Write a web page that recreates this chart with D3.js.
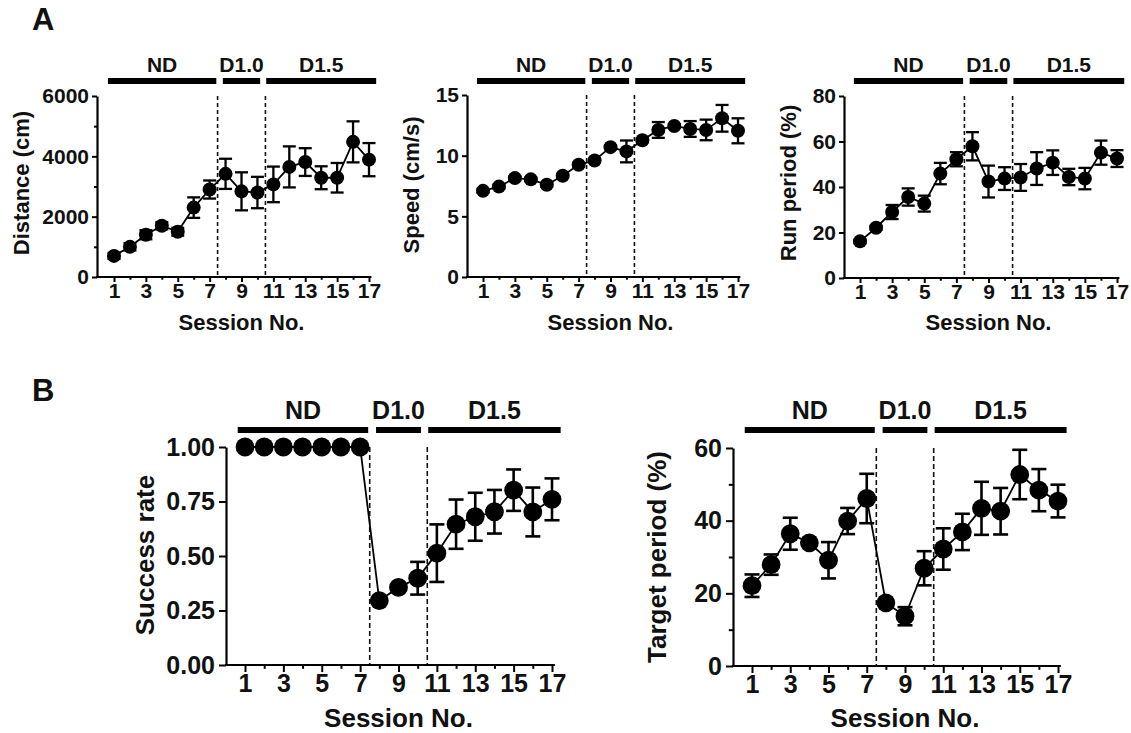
<!DOCTYPE html>
<html>
<head>
<meta charset="utf-8">
<script src="https://cdn.jsdelivr.net/npm/d3@7"></script>
<style>
  body { margin: 0; background: #fff; }
  svg text { font-family: "Liberation Sans", Arial, sans-serif; font-weight: bold; fill: #111; }
</style>
</head>
<body>
<div id="chart"></div>
<script>
const sessions = [1, 2, 3, 4, 5, 6, 7, 8, 9, 10, 11, 12, 13, 14, 15, 16, 17];
const oddSessions = [1, 3, 5, 7, 9, 11, 13, 15, 17];
const evenSessions = [2, 4, 6, 8, 10, 12, 14, 16];

const stageNames = ['ND', 'D1.0', 'D1.5'];
const stageSpans = [[0.62, 7.42], [7.83, 10.17], [10.55, 17.45]];
const stageBreaks = [7.5, 10.5];

// A: distance
const distanceMean = [700, 1000, 1400, 1700, 1500, 2300, 2900, 3420, 2840, 2800, 3070, 3650, 3810, 3290, 3290, 4480, 3890];
const distanceErr = [100, 120, 150, 120, 130, 340, 300, 500, 630, 520, 590, 680, 460, 380, 490, 680, 550];
const distanceTicks = [0, 2000, 4000, 6000];
const distanceMinor = [1000, 3000, 5000];

// A: speed
const speedMean = [7.1, 7.45, 8.15, 8.05, 7.6, 8.35, 9.25, 9.6, 10.7, 10.35, 11.27, 12.12, 12.45, 12.2, 12.12, 13.08, 12.05];
const speedErr = [0.15, 0.15, 0.15, 0.15, 0.15, 0.15, 0.15, 0.15, 0.15, 0.9, 0.15, 0.65, 0.15, 0.65, 0.85, 1.1, 1.03];
const speedTicks = [0, 5, 10, 15];

// A: run period
const runMean = [16.1, 22.1, 29, 35.6, 32.7, 45.9, 52.2, 57.9, 42.4, 43.7, 44.2, 48.1, 50.7, 44.4, 43.7, 55.1, 52.5];
const runErr = [0.8, 0.8, 3.1, 3.8, 3.5, 4.7, 3.1, 6.2, 7, 5, 5.9, 7.2, 5.4, 3.6, 4.7, 5.3, 3.7];
const runTicks = [0, 20, 40, 60, 80];

// B: success rate
const successMean = [1, 1, 1, 1, 1, 1, 1, 0.295, 0.356, 0.398, 0.513, 0.646, 0.68, 0.703, 0.802, 0.702, 0.76];
const successErr = [0, 0, 0, 0, 0, 0, 0, 0.01, 0.01, 0.075, 0.132, 0.113, 0.11, 0.1, 0.095, 0.112, 0.096];
const successTicks = [0, 0.25, 0.5, 0.75, 1];

// B: target period
const targetMean = [22.1, 27.9, 36.4, 33.9, 29.1, 39.9, 46.1, 17.4, 13.7, 26.9, 32.2, 36.9, 43.4, 42.6, 52.7, 48.4, 45.4];
const targetErr = [3.1, 2.8, 4.4, 0.5, 5, 3.6, 6.8, 0.5, 2.5, 4.7, 5.7, 5, 7.3, 6.4, 6.8, 5.8, 4.5];
const targetTicks = [0, 20, 40, 60];
const targetMinor = [10, 30, 50];

const svg = d3.select('#chart').append('svg')
    .attr('width', 1131)
    .attr('height', 733);

svg.append('text').attr('x', 32).attr('y', 30).style('font-size', '31px').text('A');
svg.append('text').attr('x', 32).attr('y', 401).style('font-size', '31px').text('B');

function drawPanel(cfg) {
    const g = svg.append('g');
    const x = d3.scaleLinear().domain([1, 17]).range([cfg.x1, cfg.x17]);
    const y = d3.scaleLinear().domain([0, cfg.yMax]).range([cfg.yBot, cfg.yTop]);

    // stage bars and labels
    stageNames.forEach((name, i) => {
        g.append('line')
            .attr('x1', x(stageSpans[i][0])).attr('x2', x(stageSpans[i][1]))
            .attr('y1', cfg.barY).attr('y2', cfg.barY)
            .attr('stroke', '#000').attr('stroke-width', 6);
        g.append('text')
            .attr('x', x((stageSpans[i][0] + stageSpans[i][1]) / 2))
            .attr('y', cfg.labelY)
            .attr('text-anchor', 'middle')
            .style('font-size', cfg.stageFont + 'px')
            .text(name);
    });

    // dashed separators
    stageBreaks.forEach(b => {
        g.append('line')
            .attr('x1', x(b)).attr('x2', x(b))
            .attr('y1', cfg.yTop).attr('y2', cfg.yBot)
            .attr('stroke', '#111').attr('stroke-width', 1.6)
            .attr('stroke-dasharray', cfg.dash);
    });

    // y axis
    g.append('g')
        .attr('transform', `translate(${cfg.axisX},0)`)
        .call(d3.axisLeft(y).tickValues(cfg.yTicks).tickSize(cfg.tick).tickSizeOuter(0)
            .tickFormat(cfg.fmt).tickPadding(cfg.pad));
    if (cfg.yMinor) {
        g.append('g')
            .attr('transform', `translate(${cfg.axisX},0)`)
            .call(d3.axisLeft(y).tickValues(cfg.yMinor).tickSize(cfg.tick * 0.6).tickFormat(''))
            .call(a => a.select('.domain').remove());
    }

    // x axis
    g.append('g')
        .attr('transform', `translate(0,${cfg.yBot})`)
        .call(d3.axisBottom(x).tickValues(oddSessions).tickSize(cfg.tick).tickPadding(cfg.pad - 2).tickFormat(d3.format('d')))
        .call(a => a.select('.domain').remove());
    g.append('g')
        .attr('transform', `translate(0,${cfg.yBot})`)
        .call(d3.axisBottom(x).tickValues(evenSessions).tickSize(cfg.tick * 0.55).tickFormat(''))
        .call(a => a.select('.domain').remove());
    g.append('line')
        .attr('x1', cfg.axisX - 1).attr('x2', x(17.15))
        .attr('y1', cfg.yBot).attr('y2', cfg.yBot)
        .attr('stroke', '#000').attr('stroke-width', 2.2);

    g.selectAll('.tick line').attr('stroke', '#000').attr('stroke-width', 2);
    g.selectAll('.domain').attr('stroke', '#000').attr('stroke-width', 2.2);
    g.selectAll('.tick text')
        .style('font-size', cfg.tickFont + 'px')
        .style('font-family', '"Liberation Sans", Arial, sans-serif')
        .style('font-weight', 'bold')
        .attr('fill', '#111');

    // titles
    g.append('text')
        .attr('x', (cfg.x1 + cfg.x17) / 2)
        .attr('y', cfg.xTitleY)
        .attr('text-anchor', 'middle')
        .style('font-size', cfg.titleFont + 'px')
        .text('Session No.');
    g.append('text')
        .attr('transform', `translate(${cfg.yTitleX},${cfg.yTitleCy}) rotate(-90)`)
        .attr('text-anchor', 'middle')
        .style('font-size', cfg.titleFont + 'px')
        .text(cfg.yTitle);

    // data
    const pts = sessions.map((s, i) => ({ s, m: cfg.mean[i], e: cfg.err[i] }));
    g.append('path')
        .datum(pts)
        .attr('fill', 'none')
        .attr('stroke', '#000')
        .attr('stroke-width', 1.8)
        .attr('d', d3.line().x(d => x(d.s)).y(d => y(d.m)));

    const eb = g.selectAll('.err').data(pts.filter(d => d.e > 0)).join('g').attr('class', 'err')
        .attr('stroke', '#000').attr('stroke-width', cfg.errW);
    eb.append('line')
        .attr('x1', d => x(d.s)).attr('x2', d => x(d.s))
        .attr('y1', d => y(d.m - d.e)).attr('y2', d => y(d.m + d.e));
    [1, -1].forEach(sign => {
        eb.append('line')
            .attr('x1', d => x(d.s) - cfg.cap).attr('x2', d => x(d.s) + cfg.cap)
            .attr('y1', d => y(d.m + sign * d.e)).attr('y2', d => y(d.m + sign * d.e));
    });

    g.selectAll('.dot').data(pts).join('circle')
        .attr('class', 'dot')
        .attr('cx', d => x(d.s))
        .attr('cy', d => y(d.m))
        .attr('r', cfg.r)
        .attr('fill', '#000');
}

const smallA = { tick: 5, pad: 3, tickFont: 21, titleFont: 22, stageFont: 21, r: 7, cap: 6.5, errW: 2.3, dash: '4,3', fmt: d3.format('d') };
const bigB = { tick: 7, pad: 4, tickFont: 25, titleFont: 26, stageFont: 25, r: 9.4, cap: 7.5, errW: 2.6, dash: '5,3' };

drawPanel(Object.assign({}, smallA, {
    axisX: 97, x1: 114, x17: 369, yTop: 96, yBot: 277, yMax: 6000,
    yTicks: distanceTicks, yMinor: distanceMinor, barY: 81, labelY: 72,
    xTitleY: 330, yTitleX: 29, yTitleCy: 183, yTitle: 'Distance (cm)',
    mean: distanceMean, err: distanceErr
}));
drawPanel(Object.assign({}, smallA, {
    axisX: 467, x1: 483, x17: 738, yTop: 95, yBot: 277, yMax: 15,
    yTicks: speedTicks, barY: 81, labelY: 72,
    xTitleY: 330, yTitleX: 419, yTitleCy: 185, yTitle: 'Speed (cm/s)',
    mean: speedMean, err: speedErr
}));
drawPanel(Object.assign({}, smallA, {
    axisX: 844, x1: 860, x17: 1117, yTop: 96, yBot: 278, yMax: 80,
    yTicks: runTicks, barY: 81, labelY: 72,
    xTitleY: 330, yTitleX: 796, yTitleCy: 183, yTitle: 'Run period (%)',
    mean: runMean, err: runErr
}));
drawPanel(Object.assign({}, bigB, {
    axisX: 226, x1: 245, x17: 552, yTop: 447, yBot: 665, yMax: 1,
    yTicks: successTicks, fmt: d3.format('.2f'), barY: 430, labelY: 419,
    xTitleY: 727, yTitleX: 154, yTitleCy: 555, yTitle: 'Success rate',
    mean: successMean, err: successErr
}));
drawPanel(Object.assign({}, bigB, {
    axisX: 733, x1: 752, x17: 1058, yTop: 448, yBot: 666, yMax: 60,
    yTicks: targetTicks, yMinor: targetMinor, fmt: d3.format('d'), barY: 430, labelY: 419,
    xTitleY: 727, yTitleX: 666, yTitleCy: 557, yTitle: 'Target period (%)',
    mean: targetMean, err: targetErr
}));
</script>
</body>
</html>
